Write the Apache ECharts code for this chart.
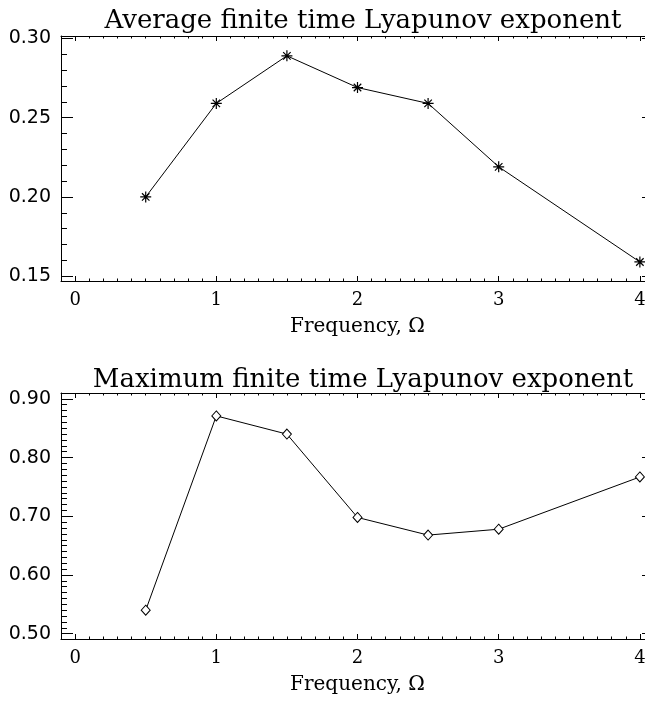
<!DOCTYPE html>
<html>
<head>
<meta charset="utf-8">
<script src="https://cdn.jsdelivr.net/npm/echarts@6/dist/echarts.min.js"></script>
<style>
  html, body { margin: 0; padding: 0; background: #fff; overflow: hidden; }
  /* the right frame of the original sits just past the picture edge */
  #chart { width: 660px; height: 702px; }
</style>
</head>
<body>
<div id="chart"></div>
<script>
// data
const freq = [0.5, 1, 1.5, 2, 2.5, 3, 4]
const avgLyap = [0.20, 0.259, 0.289, 0.269, 0.259, 0.219, 0.159]
const maxLyap = [0.54, 0.871, 0.84, 0.698, 0.668, 0.678, 0.767]

const freqTicks = [0, 1, 2, 3, 4]
const avgTicks = [0.15, 0.20, 0.25, 0.30]
const maxTicks = [0.50, 0.60, 0.70, 0.80, 0.90]

const titles = ['Average finite time Lyapunov exponent', 'Maximum finite time Lyapunov exponent']
const xName = 'Frequency, \u03A9'

// axis ranges
const xRange = [-0.1, 4.1]
const avgRange = [0.147, 0.3015]
const maxRange = [0.491, 0.910]

const serif = 'DejaVu Serif'
const sans = 'DejaVu Sans'

function steps(from, to, step) {
  const out = []
  const n = Math.round((to - from) / step)
  for (let i = 0; i <= n; i++) out.push(Math.round((from + i * step) * 1000) / 1000)
  return out
}

const xMinor = steps(-0.1, 4.1, 0.1)
const avgMinor = steps(0.15, 0.30, 0.01)
const maxMinor = steps(0.50, 0.90, 0.01)

const lineStyle = { color: '#000', width: 1 }

function xAxes(gridIndex) {
  const base = { type: 'value', gridIndex: gridIndex, min: xRange[0], max: xRange[1], splitLine: { show: false } }
  return [
    Object.assign({}, base, {
      position: 'bottom',
      axisLine: { show: true, onZero: false, lineStyle: lineStyle },
      axisTick: { show: true, inside: true, length: 5, customValues: freqTicks, lineStyle: lineStyle },
      axisLabel: { show: true, customValues: freqTicks, margin: 10, color: '#000', fontFamily: serif, fontSize: 18 },
      name: xName,
      nameLocation: 'middle',
      nameGap: 36,
      nameTextStyle: { color: '#000', fontFamily: serif, fontSize: 20 }
    }),
    Object.assign({}, base, {
      position: 'bottom',
      axisLine: { show: false, onZero: false },
      axisTick: { show: true, inside: true, length: 2.5, customValues: xMinor, lineStyle: lineStyle },
      axisLabel: { show: false }
    }),
    Object.assign({}, base, {
      position: 'top',
      axisLine: { show: true, onZero: false, lineStyle: lineStyle },
      axisTick: { show: true, inside: true, length: 5, customValues: freqTicks, lineStyle: lineStyle },
      axisLabel: { show: false }
    }),
    Object.assign({}, base, {
      position: 'top',
      axisLine: { show: false, onZero: false },
      axisTick: { show: true, inside: true, length: 2.5, customValues: xMinor, lineStyle: lineStyle },
      axisLabel: { show: false }
    })
  ]
}

function yAxes(gridIndex, range, majors, minors) {
  const base = { type: 'value', gridIndex: gridIndex, min: range[0], max: range[1], splitLine: { show: false } }
  return [
    Object.assign({}, base, {
      position: 'left',
      axisLine: { show: true, onZero: false, lineStyle: lineStyle },
      axisTick: { show: true, inside: true, length: 12, customValues: majors, lineStyle: lineStyle },
      axisLabel: {
        show: true, customValues: majors, margin: 10, color: '#000', fontFamily: sans, fontSize: 19,
        formatter: v => v.toFixed(2)
      }
    }),
    Object.assign({}, base, {
      position: 'left',
      axisLine: { show: false, onZero: false },
      axisTick: { show: true, inside: true, length: 6, customValues: minors, lineStyle: lineStyle },
      axisLabel: { show: false }
    }),
    Object.assign({}, base, {
      position: 'right',
      axisLine: { show: true, onZero: false, lineStyle: lineStyle },
      axisTick: { show: true, inside: true, length: 12, customValues: majors, lineStyle: lineStyle },
      axisLabel: { show: false }
    }),
    Object.assign({}, base, {
      position: 'right',
      axisLine: { show: false, onZero: false },
      axisTick: { show: true, inside: true, length: 6, customValues: minors, lineStyle: lineStyle },
      axisLabel: { show: false }
    })
  ]
}

const asterisk = 'path://M5,0L5,10M0,5L10,5M1.6,1.6L8.4,8.4M1.6,8.4L8.4,1.6'

const chart = echarts.init(document.getElementById('chart'))
chart.setOption({
  animation: false,
  backgroundColor: '#fff',
  title: [
    {
      text: titles[0], left: 358, top: 3, textAlign: 'center',
      textStyle: { color: '#000', fontFamily: serif, fontWeight: 'normal', fontSize: 26 }
    },
    {
      text: titles[1], left: 358, top: 362, textAlign: 'center',
      textStyle: { color: '#000', fontFamily: serif, fontWeight: 'normal', fontSize: 26 }
    }
  ],
  grid: [
    { left: 61, width: 593, top: 36, height: 245 },
    { left: 61, width: 593, top: 393, height: 246 }
  ],
  xAxis: xAxes(0).concat(xAxes(1)),
  yAxis: yAxes(0, avgRange, avgTicks, avgMinor).concat(yAxes(1, maxRange, maxTicks, maxMinor)),
  series: [
    {
      type: 'line',
      xAxisIndex: 0,
      yAxisIndex: 0,
      data: freq.map((f, i) => [f, avgLyap[i]]),
      symbol: asterisk,
      symbolSize: 11,
      lineStyle: { color: '#000', width: 1 },
      itemStyle: { color: '#000', borderColor: '#000', borderWidth: 1.2 }
    },
    {
      type: 'line',
      xAxisIndex: 4,
      yAxisIndex: 4,
      data: freq.map((f, i) => [f, maxLyap[i]]),
      symbol: 'diamond',
      symbolSize: [9, 10],
      lineStyle: { color: '#000', width: 1 },
      itemStyle: { color: '#fff', borderColor: '#000', borderWidth: 1 }
    }
  ]
})
</script>
</body>
</html>
